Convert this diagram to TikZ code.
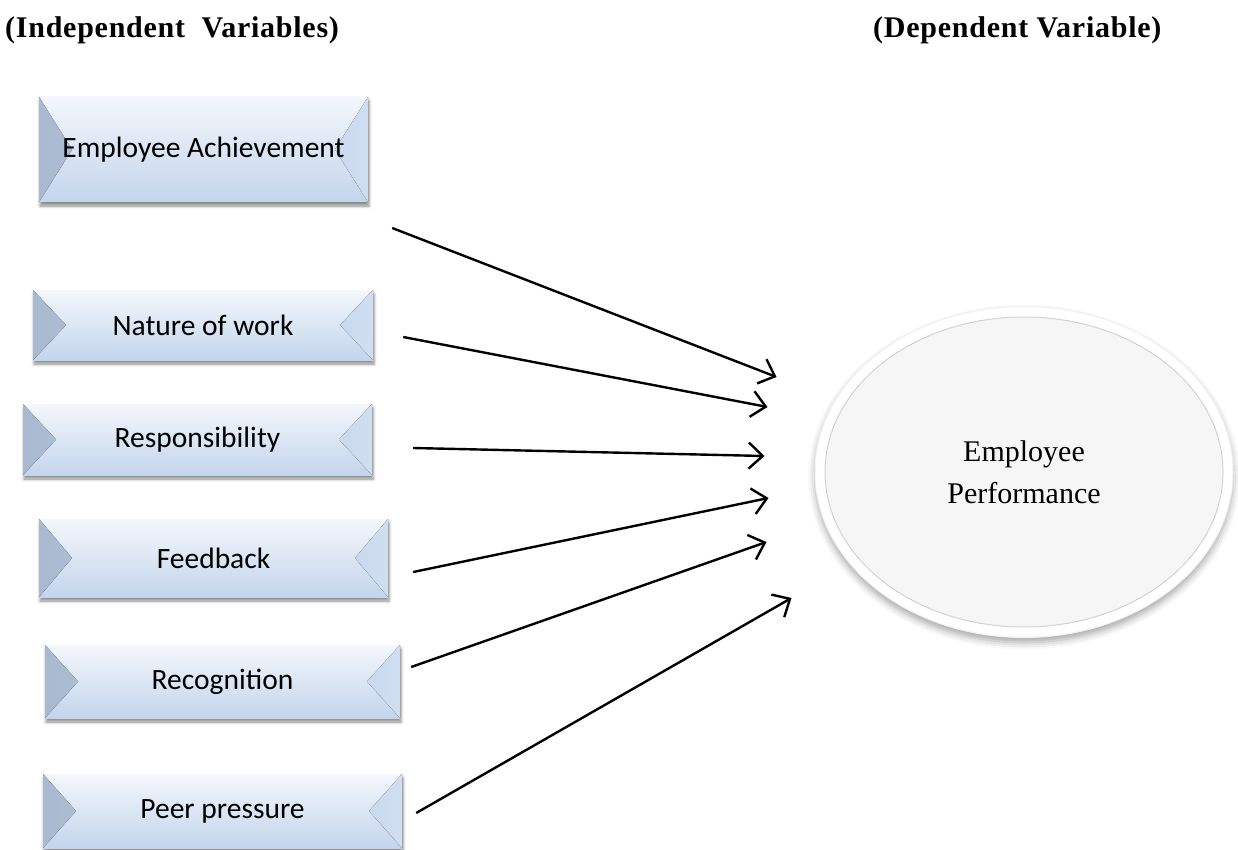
\documentclass[tikz,border=0pt]{standalone}
\usepackage{fontspec}
\setmainfont{Liberation Serif}
\newfontfamily\boxfont{Carlito}
\usetikzlibrary{arrows.meta,shadows,shadows.blur,shapes.geometric}

\definecolor{boxtop}{HTML}{F4F7FC}
\definecolor{boxbottom}{HTML}{C3D5EC}
\definecolor{bevdark}{HTML}{A9BAD0}
\definecolor{bevlight}{HTML}{D0DEF0}
\definecolor{ellfill}{HTML}{F6F6F6}

\tikzset{factor/.style={rectangle, minimum width=350pt, minimum height=72pt,
                        top color=boxtop, bottom color=boxbottom,
                        font=\boxfont\fontsize{29.5}{35}\selectfont,
                        blur shadow={shadow xshift=1pt, shadow yshift=-4pt,
                                     shadow blur radius=3pt, shadow opacity=45},
                        path picture={
                          \fill[left color=bevdark, right color=boxbottom!85!white]
                            (path picture bounding box.north west)
                            -- ([xshift=33pt]path picture bounding box.west)
                            -- (path picture bounding box.south west) -- cycle;
                          \fill[left color=boxbottom!90!white, right color=bevlight]
                            (path picture bounding box.north east)
                            -- ([xshift=-33pt]path picture bounding box.east)
                            -- (path picture bounding box.south east) -- cycle;
                        }},
        outcome/.style={ellipse, minimum width=418pt, minimum height=331pt,
                        fill=white, draw=gray!12, line width=1pt, align=center,
                        font=\fontsize{30}{42}\selectfont,
                        blur shadow={shadow xshift=0pt, shadow yshift=-5pt,
                                     shadow blur radius=7pt, shadow opacity=35},
                        path picture={
                          \draw[gray!35, fill=ellfill, line width=1pt]
                            (path picture bounding box.center)
                            ellipse [x radius=199pt, y radius=155pt];
                        }},
        heading/.style={anchor=base west, inner sep=0pt,
                        font=\bfseries\fontsize{30}{36}\selectfont\addfontfeature{LetterSpace=2.5}},
        effect/.style={-{Straight Barb[length=14pt,width=26pt]}, line width=2.4pt},
        }

\begin{document}
\begin{tikzpicture}[x=1pt, y=-1pt]
    \useasboundingbox (0,0) rectangle (1238,850);

    \node[heading] (indep) at (5,38) {(Independent\ \ Variables)};
    \node[heading] (dep) at (873,38) {(Dependent Variable)};

    % independent variables
    \node[factor, minimum width=329pt, minimum height=105pt] (achieve) at (203.5,149.5) {Employee Achievement};
    \node[factor, minimum width=340pt, minimum height=70pt] (nature) at (203,325) {Nature of work};
    \node[factor, minimum width=349pt, minimum height=71pt] (resp) at (197.5,439.5) {Responsibility};
    \node[factor, minimum width=349pt, minimum height=78pt] (feedback) at (213.5,558) {Feedback};
    \node[factor, minimum width=355pt, minimum height=73pt] (recog) at (222.5,681.5) {Recognition};
    \node[factor, minimum width=359pt, minimum height=74pt] (peer) at (222.5,811) {Peer pressure};

    % dependent variable
    \node[outcome] (perf) at (1024,472) {Employee\\Performance};

    % arrow tips in front of the ellipse
    \coordinate (t1) at ([shift={(-38,-95)}]perf.west);
    \coordinate (t2) at ([shift={(-47,-65)}]perf.west);
    \coordinate (t3) at ([shift={(-50,-16)}]perf.west);
    \coordinate (t4) at ([shift={(-46,26)}]perf.west);
    \coordinate (t5) at ([shift={(-48,70)}]perf.west);
    \coordinate (t6) at ([shift={(-23,126)}]perf.west);

    \draw[effect] ([shift={(24,78.5)}]achieve.east) -- (t1);
    \draw[effect] ([shift={(30,12)}]nature.east) -- (t2);
    \draw[effect] ([shift={(41,8.5)}]resp.east) -- (t3);
    \draw[effect] ([shift={(25,14)}]feedback.east) -- (t4);
    \draw[effect] ([shift={(11,-14.5)}]recog.east) -- (t5);
    \draw[effect] ([shift={(14,2)}]peer.east) -- (t6);

\end{tikzpicture}
\end{document}
